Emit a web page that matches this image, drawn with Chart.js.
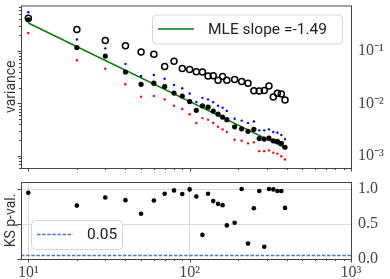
<!DOCTYPE html>
<html>
<head>
<meta charset="utf-8">
<script src="https://cdn.jsdelivr.net/npm/chart.js@4.4.1/dist/chart.umd.min.js"></script>
<style>
    html, body { margin: 0; padding: 0; background: #fff; }
    #quadro { position: relative; width: 390px; height: 279px; overflow: hidden; }
    #quadro canvas { position: absolute; left: 0; }
    #variancia { top: 0; }
    #ksPval { top: 176px; }
</style>
</head>
<body>
<div id="quadro">
    <canvas id="variancia" width="390" height="176"></canvas>
    <canvas id="ksPval" width="390" height="103"></canvas>
</div>
<script>
// Tamanhos das amostras (eixo x)
var tamanhos = [10, 20, 30, 40, 50, 60, 70, 80, 90, 100, 110, 120, 130, 140, 150, 160, 170,
    190, 210, 230, 250, 270, 290, 310, 330, 350, 370, 390];

// Variância - círculos abertos
var varianciaAberta = [0.421, 0.255, 0.158, 0.125, 0.0958, 0.0869, 0.0506, 0.0637, 0.0464, 0.0445,
    0.0400, 0.0398, 0.0333, 0.0336, 0.0278, 0.0326, 0.0277, 0.0286, 0.0261, 0.0242,
    0.0175, 0.0173, 0.0177, 0.0215, 0.0133, 0.0156, 0.0151, 0.0117];
// Variância - pontos pretos
var varianciaMedia = [0.392, 0.116, 0.0798, 0.0398, 0.0232, 0.0244, 0.021, 0.0158, 0.0139, 0.0109,
    0.00741, 0.00906, 0.0085, 0.00718, 0.00625, 0.00551, 0.00493, 0.0036, 0.0033, 0.00295,
    0.00322, 0.00215, 0.0021, 0.00219, 0.00195, 0.0019, 0.00174, 0.00147];
// Limite superior (azul) e inferior (vermelho)
var varianciaAzul = [0.544, 0.165, 0.112, 0.0567, 0.0333, 0.0348, 0.0295, 0.0225, 0.0195, 0.0155,
    0.0107, 0.0128, 0.012, 0.0106, 0.00906, 0.00832, 0.00723, 0.00514, 0.00472, 0.00427,
    0.00453, 0.00308, 0.00308, 0.00322, 0.00286, 0.00278, 0.00252, 0.0021];
var varianciaVermelha = [0.219, 0.0664, 0.0458, 0.0232, 0.0134, 0.0139, 0.012, 0.00906, 0.00787, 0.00625,
    0.00425, 0.00527, 0.00493, 0.00427, 0.0036, 0.00322, 0.00286, 0.00204, 0.00195, 0.00174,
    0.00182, 0.00124, 0.00124, 0.00128, 0.00116, 0.00111, 0.00099, 0.000857];

// Reta do ajuste MLE (extremos)
var ajusteX = [10, 390];
var ajusteY = [0.34, 0.00143];
var rotuloAjuste = 'MLE slope =-1.49';

// p-valores do teste KS
var pValores = [0.947, 0.763, 0.879, 0.841, 0.647, 0.835, 0.932, 0.98, 0.928, 0.994,
    0.893, 0.344, 0.932, 0.827, 0.788, 0.769, 0.48, 0.517, 1.0, 0.22,
    0.725, 0.971, 0.176, 1.0, 0.994, 0.971, 0.971, 0.73];
var limiteKS = 0.05;

// Eixos e marcas
var xMin = 9.01, xMax = 1000;
var yVarMin = 0.000592, yVarMax = 0.733;
var yKsMin = 0, yKsMax = 1.1;
var xMarcasMaiores = [10, 100, 1000];
var xMarcasMenores = [20, 30, 40, 50, 60, 70, 80, 90, 200, 300, 400, 500, 600, 700, 800, 900];
var yVarMaiores = [0.001, 0.01, 0.1];
var yVarMenores = [0.0006, 0.0007, 0.0008, 0.0009, 0.002, 0.003, 0.004, 0.005, 0.006, 0.007, 0.008, 0.009,
    0.02, 0.03, 0.04, 0.05, 0.06, 0.07, 0.08, 0.09, 0.2, 0.3, 0.4, 0.5, 0.6, 0.7];
var yKsMarcas = [0, 0.5, 1.0];
var rotulosPotencia = { 0.001: '10⁻³', 0.01: '10⁻²', 0.1: '10⁻¹', 10: '10¹', 100: '10²', 1000: '10³' };

Chart.defaults.font.family = 'Roboto';
Chart.defaults.color = '#333';

function pontos(xs, ys) {
    return xs.map((x, i) => ({ x: x, y: ys[i] }));
}

// Desenha a moldura e as marcas de escala (maiores e menores)
var marcasEixo = {
    id: 'marcasEixo',
    afterDraw: function(chart, args, opts) {
        var ctx = chart.ctx, a = chart.chartArea;
        ctx.save();
        ctx.strokeStyle = '#444';
        ctx.lineWidth = 1;
        (opts.eixos || []).forEach(function(e) {
            var s = chart.scales[e.escala];
            [[e.maiores, 3.5], [e.menores || [], 2]].forEach(function(par) {
                par[0].forEach(function(v) {
                    if (v < s.min || v > s.max) return;
                    var p = Math.round(s.getPixelForValue(v)) + 0.5;
                    ctx.beginPath();
                    if (e.lado === 'bottom') {
                        ctx.moveTo(p, a.bottom);
                        ctx.lineTo(p, a.bottom + par[1]);
                    } else {
                        ctx.moveTo(a.left, p);
                        ctx.lineTo(a.left - par[1], p);
                    }
                    ctx.stroke();
                });
            });
        });
        ctx.strokeRect(a.left + 0.5, a.top + 0.5, a.right - a.left, a.bottom - a.top);
        ctx.restore();
    }
};

// Legenda em caixa dentro da área do gráfico
var legendaCaixa = {
    id: 'legendaCaixa',
    afterDatasetsDraw: function(chart, args, o) {
        if (!o.largura) return;
        var ctx = chart.ctx, a = chart.chartArea;
        var ds = chart.data.datasets[o.dataset];
        var x = o.lado === 'direita' ? a.right - o.margemX - o.largura : a.left + o.margemX;
        var y = o.alto ? a.top + o.margemY : a.bottom - o.margemY - o.altura;
        ctx.save();
        ctx.beginPath();
        ctx.roundRect(x + 0.5, y + 0.5, o.largura, o.altura, 4);
        ctx.fillStyle = 'rgba(255,255,255,0.85)';
        ctx.fill();
        ctx.strokeStyle = '#d6d6d6';
        ctx.lineWidth = 1;
        ctx.stroke();
        var cy = y + o.altura / 2;
        ctx.beginPath();
        ctx.setLineDash(ds.borderDash || []);
        ctx.strokeStyle = ds.borderColor;
        ctx.lineWidth = ds.borderWidth;
        ctx.moveTo(x + 6, cy);
        ctx.lineTo(x + 42, cy);
        ctx.stroke();
        ctx.setLineDash([]);
        ctx.fillStyle = '#222';
        ctx.font = '15.5px Roboto';
        ctx.textBaseline = 'middle';
        ctx.fillText(ds.label, x + 56, cy + 1);
        ctx.restore();
    }
};

function fixarTamanho(largura, altura) {
    return function(escala) {
        if (largura !== null) escala.width = largura;
        if (altura !== null) escala.height = altura;
        escala.paddingTop = 0;
        escala.paddingBottom = 0;
        escala.paddingLeft = 0;
        escala.paddingRight = 0;
    };
}

var fonteSerifa = { family: 'Liberation Serif', size: 16 };

// Painel superior: variância
new Chart(document.getElementById('variancia'), {
    type: 'scatter',
    data: {
        datasets: [
            { label: 'média', data: pontos(tamanhos, varianciaMedia), backgroundColor: '#000', borderWidth: 0, pointRadius: 2.6, order: 0 },
            { label: 'aberta', data: pontos(tamanhos, varianciaAberta), backgroundColor: 'rgba(0,0,0,0)', borderColor: '#000', borderWidth: 1.5, pointRadius: 3, order: 1 },
            { label: 'azul', data: pontos(tamanhos, varianciaAzul), backgroundColor: '#0000ff', borderWidth: 0, pointRadius: 1.2, order: 2 },
            { label: 'vermelha', data: pontos(tamanhos, varianciaVermelha), backgroundColor: '#ff0000', borderWidth: 0, pointRadius: 1.2, order: 3 },
            { label: rotuloAjuste, data: pontos(ajusteX, ajusteY), showLine: true, borderColor: '#008000', borderWidth: 1.5, pointRadius: 0, order: 4 }
        ]
    },
    options: {
        responsive: false,
        animation: false,
        events: [],
        layout: { padding: { top: 1, left: 0, right: 0, bottom: 0 } },
        plugins: {
            legend: { display: false },
            tooltip: { enabled: false },
            marcasEixo: {
                eixos: [
                    { escala: 'x', lado: 'bottom', maiores: xMarcasMaiores, menores: xMarcasMenores },
                    { escala: 'yl', lado: 'left', maiores: yVarMaiores, menores: yVarMenores }
                ]
            },
            legendaCaixa: { dataset: 4, lado: 'direita', alto: true, margemX: 9, margemY: 9, largura: 190, altura: 29 }
        },
        scales: {
            x: {
                type: 'logarithmic', min: xMin, max: xMax,
                grid: { display: false, drawTicks: false },
                border: { display: false },
                ticks: { display: false },
                afterFit: fixarTamanho(null, 8)
            },
            yl: {
                type: 'logarithmic', position: 'left', min: yVarMin, max: yVarMax,
                grid: { display: false, drawTicks: false },
                border: { display: false },
                ticks: { display: false },
                title: { display: true, text: 'variance', font: { size: 14 }, color: '#333', padding: { top: 3, bottom: 0 } },
                afterFit: fixarTamanho(21, null)
            },
            y: {
                type: 'logarithmic', position: 'right', min: yVarMin, max: yVarMax,
                grid: { display: false, drawTicks: false },
                border: { display: false },
                ticks: {
                    font: fonteSerifa, color: '#444', padding: 7,
                    callback: function(v) { return rotulosPotencia[v] || ''; }
                },
                afterBuildTicks: function(escala) { escala.ticks = yVarMaiores.map(v => ({ value: v })); },
                afterFit: fixarTamanho(39, null)
            }
        }
    },
    plugins: [marcasEixo, legendaCaixa]
});

// Painel inferior: p-valores do KS
new Chart(document.getElementById('ksPval'), {
    type: 'scatter',
    data: {
        datasets: [
            { label: 'p', data: pontos(tamanhos, pValores), backgroundColor: '#000', borderWidth: 0, pointRadius: 2.3, order: 0 },
            { label: String(limiteKS), data: pontos([xMin, xMax], [limiteKS, limiteKS]), showLine: true, borderColor: '#4d76c8', borderWidth: 1.3, borderDash: [3.5, 1.6], pointRadius: 0, order: 1 }
        ]
    },
    options: {
        responsive: false,
        animation: false,
        events: [],
        layout: { padding: { top: 6, left: 0, right: 0, bottom: 0 } },
        plugins: {
            legend: { display: false },
            tooltip: { enabled: false },
            marcasEixo: {
                eixos: [
                    { escala: 'x', lado: 'bottom', maiores: xMarcasMaiores, menores: xMarcasMenores },
                    { escala: 'yl', lado: 'left', maiores: yKsMarcas }
                ]
            },
            legendaCaixa: { dataset: 1, lado: 'esquerda', alto: false, margemX: 10, margemY: 10, largura: 91, altura: 29 }
        },
        scales: {
            x: {
                type: 'logarithmic', min: xMin, max: xMax,
                grid: { color: '#dadada', lineWidth: 1, drawTicks: false },
                border: { display: false },
                ticks: {
                    font: fonteSerifa, color: '#444', padding: 4, autoSkip: false, maxRotation: 0,
                    callback: function(v) { return rotulosPotencia[v] || ''; }
                },
                afterBuildTicks: function(escala) { escala.ticks = xMarcasMaiores.map(v => ({ value: v })); },
                afterFit: fixarTamanho(null, 20)
            },
            yl: {
                type: 'linear', position: 'left', min: yKsMin, max: yKsMax,
                grid: { display: false, drawTicks: false },
                border: { display: false },
                ticks: { display: false },
                title: { display: true, text: 'KS p-val.', font: { size: 14 }, color: '#333', padding: { top: 3, bottom: 0 } },
                afterFit: fixarTamanho(21, null)
            },
            y: {
                type: 'linear', position: 'right', min: yKsMin, max: yKsMax,
                grid: { color: '#dadada', lineWidth: 1, drawTicks: false },
                border: { display: false },
                ticks: {
                    font: fonteSerifa, color: '#444', padding: 7,
                    callback: function(v) { return v.toFixed(1); }
                },
                afterBuildTicks: function(escala) { escala.ticks = yKsMarcas.map(v => ({ value: v })); },
                afterFit: fixarTamanho(39, null)
            }
        }
    },
    plugins: [marcasEixo, legendaCaixa]
});
</script>
</body>
</html>
